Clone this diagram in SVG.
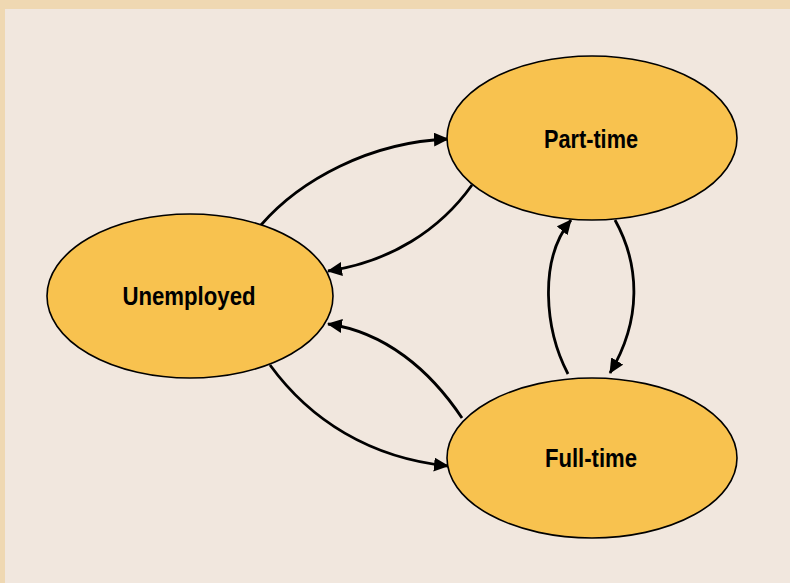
<svg xmlns="http://www.w3.org/2000/svg" width="790" height="583" viewBox="0 0 790 583">
<style>
.node ellipse{fill:#F8C24F;stroke:#000;stroke-width:1.6}
.node text{font-family:"Liberation Sans",Arial,sans-serif;font-weight:bold;font-size:25px;fill:#000;text-anchor:middle}
.conn path{fill:none;stroke:#000;stroke-width:2.8;marker-end:url(#arr)}
</style>
<defs>
<marker id="arr" markerUnits="userSpaceOnUse" markerWidth="15" markerHeight="14" refX="14" refY="7" orient="auto">
<path d="M0,0 L15,7 L0,14 z" fill="#000"/>
</marker>
</defs>
<rect x="0" y="0" width="790" height="583" fill="#EFD8B2"/>
<rect x="5" y="9" width="785" height="574" fill="#F1E7DE"/>
<g id="connectors" class="conn">
<path d="M261,225 C300,180 370,142 448,139"/>
<path d="M472,185 C440,230 390,262 328,271"/>
<path d="M462,418 C430,370 385,332 328,324"/>
<path d="M270,365 C310,420 370,458 448,466"/>
<path d="M568,374 C545,330 538,260 571,220"/>
<path d="M615,220 C640,265 642,320 610,373"/>
</g>
<g id="unemployed" class="node">
<ellipse cx="190" cy="296" rx="143" ry="82"/>
<text x="189" y="305" textLength="133" lengthAdjust="spacingAndGlyphs">Unemployed</text>
</g>
<g id="part-time" class="node">
<ellipse cx="592" cy="138" rx="145" ry="82"/>
<text x="591" y="148" textLength="94" lengthAdjust="spacingAndGlyphs">Part-time</text>
</g>
<g id="full-time" class="node">
<ellipse cx="592" cy="458" rx="145" ry="80"/>
<text x="591" y="467" textLength="92" lengthAdjust="spacingAndGlyphs">Full-time</text>
</g>
</svg>
